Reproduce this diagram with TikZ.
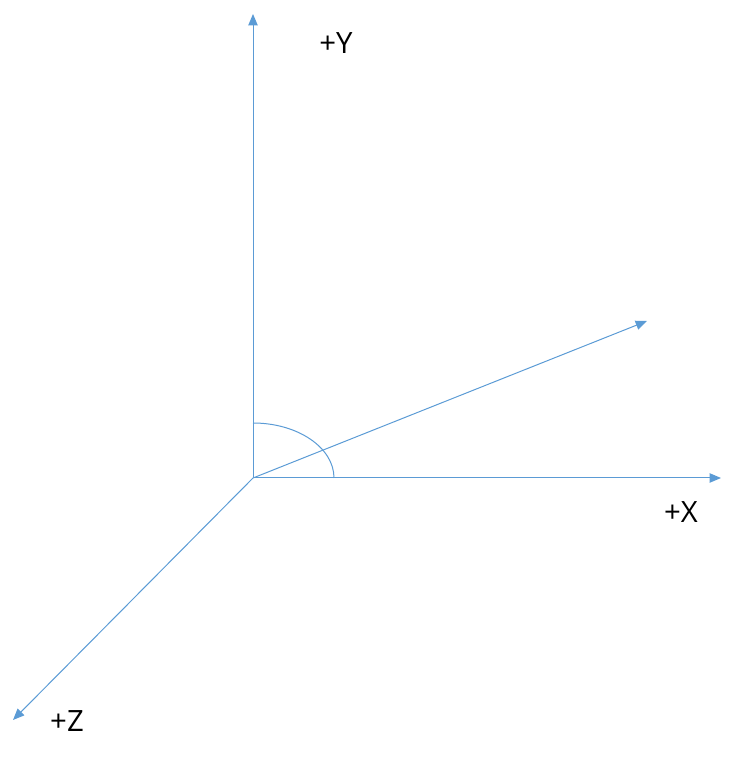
\documentclass[tikz,border=0pt]{standalone}
\usepackage{fontspec}
\setmainfont{Open Sans}
\usetikzlibrary{calc,arrows.meta}

\begin{document}
\begin{tikzpicture}[x=0.75pt,y=0.75pt,axis/.style={draw={rgb,255:red,91;green,155;blue,213},line width=0.75pt},>={Triangle[length=8.5pt,width=7pt]},lbl/.style={font=\fontsize{22}{26}\selectfont,inner sep=0pt}]
\useasboundingbox (0,0) rectangle (735,767);

\coordinate (O) at (253,289);
\coordinate (ytip) at (253,753);
\coordinate (xtip) at (721,289);
\coordinate (ztip) at (13,47);
\coordinate (vtip) at (647,446);

\draw[axis,->] (O)--(ytip);
\draw[axis,->] (O)--(xtip);
\draw[axis,->] (O)--(ztip);
\draw[axis,->] (O)--(vtip);
\draw[axis] ($(O)+(0,55)$) arc[start angle=90,end angle=0,x radius=81,y radius=55];

\node[lbl] (ylbl) at (336,724) {+Y};
\node[lbl] (xlbl) at (681,255) {+X};
\node[lbl] (zlbl) at (67,45.5) {+Z};
\end{tikzpicture}
\end{document}
